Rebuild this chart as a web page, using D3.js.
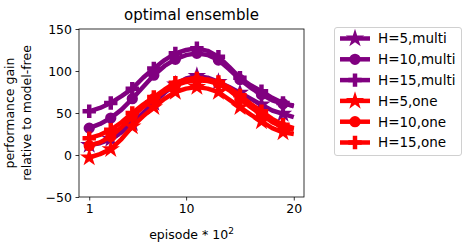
<!DOCTYPE html>
<html>
<head>
<meta charset="utf-8">
<script src="https://cdn.jsdelivr.net/npm/d3@7"></script>
<style>
  body { margin: 0; background: #fff; }
  text { font-family: "DejaVu Sans", sans-serif; }
</style>
</head>
<body>
<div id="chart"></div>
<script>
"use strict";

// episodes (x 10^2)
const episodes = [1, 2, 3, 4, 5, 6, 7, 8, 9, 10, 11, 12, 13, 14, 15, 16, 17, 18, 19, 20];
const xTicks = [1, 10, 20];
const yTicks = [-50, 0, 50, 100, 150];

const seriesNames = ["H=5,multi", "H=10,multi", "H=15,multi", "H=5,one", "H=10,one", "H=15,one"];
const seriesColors = ["#800080", "#800080", "#800080", "#ff0000", "#ff0000", "#ff0000"];
const seriesMarkers = ["star", "circle", "plus", "star", "circle", "plus"];

const h5Multi = [12, 14, 19, 27, 38, 50, 62, 74, 84, 91, 94, 92, 87, 81, 74, 67, 60, 53, 49, 45];
const h10Multi = [32, 37, 44, 54, 67, 81, 95, 106, 114, 119, 121, 119, 113, 102, 90, 80, 72, 65, 61, 59];
const h15Multi = [52, 56, 62, 70, 79, 92, 103, 113, 121, 125, 127, 124, 117, 105, 92, 83, 76, 68, 62, 58];
const h5One = [-3, 1, 7, 19, 34, 46, 57, 67, 75, 79, 81, 79, 75, 66, 57, 48, 40, 32, 27, 25];
const h10One = [11, 15, 22, 33, 46, 57, 67, 76, 83, 87, 89, 88, 85, 77, 67, 57, 48, 39, 33, 30];
const h15One = [20, 24, 30, 39, 50, 60, 69, 78, 86, 90, 91, 90, 87, 80, 71, 61, 52, 43, 36, 32];

const allSeries = [h5Multi, h10Multi, h15Multi, h5One, h10One, h15One];

const msm = {
    width: 469,
    height: 247,
    left: 79,
    right: 304,
    top: 29,
    bottom: 197
}

const svg = d3.select("#chart")
    .append("svg")
    .attr("width", msm.width)
    .attr("height", msm.height);

const xScale = d3.scaleLinear()
    .domain([0.05, 20.95])
    .range([msm.left, msm.right]);

const yScale = d3.scaleLinear()
    .domain([-50, 150])
    .range([msm.bottom, msm.top]);

// marker symbols
function symbolFor(kind) {
    if (kind == "star") return d3.symbol().type(d3.symbolStar).size(105);
    if (kind == "circle") return d3.symbol().type(d3.symbolCircle).size(100);
    return d3.symbol().type(d3.symbolCross).size(100);
}

const line = d3.line()
    .x((d, i) => xScale(episodes[i]))
    .y(d => yScale(d))
    .curve(d3.curveLinear);

const plot = svg.append("g");

allSeries.forEach((vals, s) => {
    plot.append("path")
        .attr("d", line(vals))
        .attr("fill", "none")
        .attr("stroke", seriesColors[s])
        .attr("stroke-width", 4.5)
        .attr("stroke-linejoin", "round");

    // markers every other point
    plot.selectAll(".m" + s)
        .data(vals.filter((d, i) => i % 2 == 0))
        .enter()
        .append("path")
        .attr("d", symbolFor(seriesMarkers[s])())
        .attr("transform", (d, i) => "translate(" + xScale(episodes[i * 2]) + "," + yScale(d) + ")")
        .attr("fill", seriesColors[s]);
});

// axes
const xAxis = d3.axisBottom(xScale).tickValues(xTicks).tickSize(3.5).tickPadding(3.5);
const gx = svg.append("g")
    .attr("transform", "translate(0," + msm.bottom + ")")
    .call(xAxis);
const yAxis = d3.axisLeft(yScale).tickValues(yTicks).tickSize(3.5).tickPadding(3.5)
    .tickFormat(d => d < 0 ? "\u2212" + Math.abs(d) : d);
const gy = svg.append("g")
    .attr("transform", "translate(" + msm.left + ",0)")
    .call(yAxis);

[gx, gy].forEach(g => {
    g.select(".domain").remove();
    g.selectAll("line").attr("stroke", "#000").attr("stroke-width", 0.8);
    g.selectAll("text")
        .attr("fill", "#000")
        .style("font-size", "12.5px")
        .style("font-family", "DejaVu Sans");
});

// frame
svg.append("rect")
    .attr("x", msm.left)
    .attr("y", msm.top)
    .attr("width", msm.right - msm.left)
    .attr("height", msm.bottom - msm.top)
    .attr("fill", "none")
    .attr("stroke", "#000")
    .attr("stroke-width", 0.8);

// title and labels
svg.append("text")
    .attr("x", (msm.left + msm.right) / 2)
    .attr("y", 20)
    .attr("text-anchor", "middle")
    .style("font-size", "15px")
    .text("optimal ensemble");

const xl = svg.append("text")
    .attr("x", (msm.left + msm.right) / 2)
    .attr("y", 239)
    .attr("text-anchor", "middle")
    .style("font-size", "12.5px");
xl.append("tspan").text("episode * 10");
xl.append("tspan").attr("dy", -5).style("font-size", "9px").text("2");

svg.append("text")
    .attr("transform", "translate(14," + ((msm.top + msm.bottom) / 2) + ") rotate(-90)")
    .attr("text-anchor", "middle")
    .style("font-size", "12.5px")
    .text("performance gain");
svg.append("text")
    .attr("transform", "translate(30.5," + ((msm.top + msm.bottom) / 2) + ") rotate(-90)")
    .attr("text-anchor", "middle")
    .style("font-size", "12.5px")
    .text("relative to model-free");

// legend
const legend = svg.append("g");
legend.append("rect")
    .attr("x", 334.5)
    .attr("y", 27.5)
    .attr("width", 127)
    .attr("height", 128)
    .attr("rx", 2.5)
    .attr("fill", "#fff")
    .attr("stroke", "#d0d0d0")
    .attr("stroke-width", 1);

seriesNames.forEach((name, i) => {
    const y = 38.5 + i * 20.8;
    legend.append("line")
        .attr("x1", 340)
        .attr("x2", 370)
        .attr("y1", y)
        .attr("y2", y)
        .attr("stroke", seriesColors[i])
        .attr("stroke-width", 4.5);
    legend.append("path")
        .attr("d", symbolFor(seriesMarkers[i])())
        .attr("transform", "translate(355," + y + ")")
        .attr("fill", seriesColors[i]);
    legend.append("text")
        .attr("x", 378)
        .attr("y", y + 4.8)
        .style("font-size", "13.5px")
        .text(name);
});
</script>
</body>
</html>
